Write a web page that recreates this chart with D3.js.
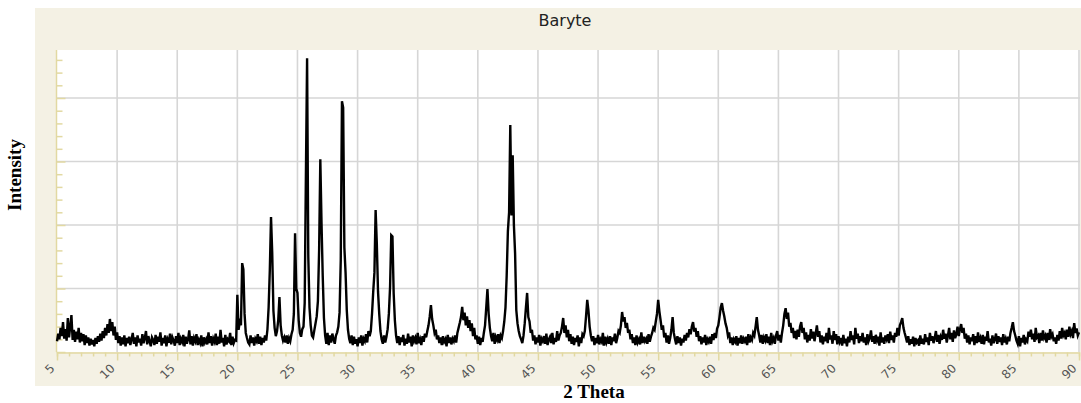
<!DOCTYPE html>
<html>
<head>
<meta charset="utf-8">
<script src="https://cdn.jsdelivr.net/npm/d3@7"></script>
<style>
  body { margin: 0; background: #fff; }
</style>
</head>
<body>
<div id="chart"></div>
<script>
// 2 Theta scan: first angle, step, and counts (one row per degree)
const thetaStart = 5;
const thetaStep = 0.1;
const counts = [
  170, 290, 200, 380, 250, 470, 210, 360, 180, 535,   // 5
  230, 400, 580, 190, 350, 160, 320, 200, 380, 150,   // 6
  300, 170, 280, 110, 260, 140, 230, 100, 210, 120,   // 7
  190, 90, 220, 130, 250, 160, 290, 180, 330, 220,    // 8
  380, 260, 440, 300, 520, 330, 470, 260, 400, 190,   // 9
  310, 140, 250, 100, 230, 120, 260, 90, 220, 140,    // 10
  240, 110, 200, 300, 130, 230, 90, 260, 150, 210,    // 11
  100, 280, 140, 220, 330, 120, 250, 170, 90, 230,    // 12
  190, 110, 270, 130, 240, 160, 310, 100, 220, 140,   // 13
  260, 90, 200, 150, 290, 120, 230, 180, 100, 250,    // 14
  140, 300, 110, 210, 160, 270, 90, 240, 130, 200,    // 15
  340, 120, 250, 100, 220, 170, 280, 110, 190, 140,   // 16
  260, 90, 230, 150, 200, 120, 310, 140, 250, 100,    // 17
  210, 160, 290, 110, 240, 130, 350, 150, 220, 90,    // 18
  270, 120, 200, 170, 300, 110, 240, 140, 190, 180,   // 19
  900, 350, 470, 420, 1400, 1300, 600, 300, 220, 150, // 20
  120, 260, 140, 230, 100, 210, 170, 280, 130, 240,   // 21
  110, 220, 150, 260, 180, 350, 700, 1290, 2125, 1560, // 22
  650, 380, 250, 330, 500, 865, 420, 260, 180, 230,   // 23
  150, 260, 130, 220, 170, 280, 350, 600, 1870, 1000, // 24
  930, 500, 300, 240, 360, 400, 770, 2760, 4625, 1500, // 25
  700, 420, 260, 230, 340, 450, 560, 800, 1600, 3035, // 26
  2030, 1200, 540, 260, 130, 300, 110, 260, 150, 290, // 27
  200, 130, 260, 310, 400, 620, 1450, 3950, 3850, 1650, // 28
  1250, 660, 350, 210, 140, 260, 110, 240, 130, 200,  // 29
  90, 230, 140, 260, 100, 210, 170, 280, 150, 330,    // 30
  250, 330, 600, 950, 1250, 2235, 1700, 950, 600, 330, // 31
  200, 130, 260, 150, 240, 360, 600, 1020, 1840, 1820, // 32
  930, 500, 260, 140, 250, 110, 230, 160, 270, 100,   // 33
  210, 130, 290, 150, 240, 90, 260, 170, 220, 120,    // 34
  300, 140, 200, 110, 250, 160, 290, 230, 330, 420,   // 35
  560, 740, 520, 420, 300, 350, 200, 260, 140, 230,   // 36
  110, 250, 160, 200, 90, 270, 140, 230, 120, 210,    // 37
  170, 260, 150, 300, 380, 460, 550, 710, 500, 620,   // 38
  420, 560, 380, 500, 330, 450, 250, 380, 200, 260,   // 39
  130, 240, 110, 220, 160, 300, 420, 700, 990, 600,   // 40
  380, 250, 170, 300, 130, 240, 190, 280, 140, 260,   // 41
  220, 330, 480, 700, 1200, 1900, 2200, 3575, 2150, 3100, // 42
  2000, 1550, 660, 450, 330, 250, 200, 140, 260, 450, // 43
  700, 930, 550, 480, 300, 350, 180, 260, 120, 230,   // 44
  150, 270, 100, 210, 170, 250, 130, 290, 110, 200,   // 45
  240, 140, 300, 120, 220, 160, 330, 180, 260, 300,   // 46
  400, 535, 300, 420, 230, 350, 170, 280, 130, 240,   // 47
  110, 220, 160, 260, 90, 230, 140, 280, 250, 330,    // 48
  560, 820, 650, 400, 260, 170, 250, 110, 220, 140,   // 49
  270, 120, 200, 160, 300, 100, 240, 150, 210, 130,   // 50
  250, 110, 230, 170, 290, 140, 220, 330, 300, 420,   // 51
  630, 480, 550, 380, 460, 300, 350, 200, 280, 140,   // 52
  230, 110, 260, 150, 200, 120, 310, 140, 240, 170,   // 53
  210, 130, 280, 160, 240, 300, 380, 350, 480, 600,   // 54
  820, 640, 500, 350, 420, 230, 300, 150, 260, 130,   // 55
  220, 350, 550, 300, 200, 120, 250, 140, 230, 100,   // 56
  210, 150, 270, 180, 300, 230, 360, 280, 400, 470,   // 57
  320, 380, 240, 330, 170, 250, 120, 230, 150, 270,   // 58
  110, 200, 160, 240, 130, 280, 190, 300, 220, 370,   // 59
  420, 550, 700, 770, 650, 560, 450, 380, 260, 310,   // 60
  140, 230, 110, 200, 160, 250, 100, 220, 140, 260,   // 61
  130, 210, 170, 240, 110, 280, 150, 230, 190, 300,   // 62
  260, 400, 550, 350, 260, 150, 270, 130, 230, 180,   // 63
  280, 140, 240, 110, 300, 170, 220, 130, 260, 330,   // 64
  180, 270, 150, 300, 420, 600, 690, 520, 620, 400,   // 65
  460, 300, 380, 220, 330, 200, 350, 240, 400, 470,   // 66
  300, 380, 200, 310, 150, 270, 180, 360, 210, 320,   // 67
  170, 290, 420, 240, 330, 150, 260, 120, 240, 170,   // 68
  300, 140, 380, 200, 260, 130, 330, 190, 280, 120,   // 69
  250, 160, 220, 100, 270, 140, 210, 90, 240, 150,    // 70
  330, 190, 260, 120, 380, 210, 290, 140, 250, 170,   // 71
  300, 150, 230, 110, 280, 170, 220, 340, 160, 250,   // 72
  130, 270, 180, 240, 100, 310, 150, 230, 130, 260,   // 73
  200, 280, 140, 320, 190, 260, 150, 300, 240, 380,   // 74
  260, 420, 470, 535, 380, 300, 230, 150, 250, 110,   // 75
  200, 130, 240, 90, 220, 150, 180, 100, 260, 130,    // 76
  210, 120, 280, 160, 230, 110, 300, 180, 250, 140,   // 77
  220, 330, 160, 270, 130, 240, 190, 350, 210, 290,   // 78
  150, 260, 380, 200, 300, 160, 340, 220, 280, 400,   // 79
  250, 360, 440, 300, 380, 210, 290, 150, 260, 120,   // 80
  230, 170, 280, 110, 250, 140, 310, 160, 220, 130,   // 81
  270, 120, 240, 180, 330, 150, 210, 100, 260, 140,   // 82
  200, 290, 130, 250, 160, 230, 110, 280, 150, 210,   // 83
  120, 240, 170, 300, 380, 470, 330, 260, 180, 130,   // 84
  250, 90, 220, 150, 270, 120, 200, 170, 320, 240,    // 85
  350, 200, 290, 160, 380, 230, 260, 140, 300, 180,   // 86
  340, 220, 260, 150, 300, 190, 360, 240, 280, 170,   // 87
  230, 130, 270, 180, 330, 210, 380, 260, 300, 200,   // 88
  350, 240, 400, 280, 330, 220, 455, 300, 370, 260,   // 89
  310                                                 // 90
];

const xTicks = d3.range(5, 91, 5);          // labelled 2 Theta ticks
const yGrid = [1000, 2000, 3000, 4000];     // horizontal grid lines
const title = "Baryte";

const W = 1081, H = 403;
const panel = { left: 35, top: 8, right: 1081, bottom: 386 };
const plot = { left: 57, top: 50, right: 1080, bottom: 352 };

const svg = d3.select("#chart")
  .append("svg")
  .attr("width", W)
  .attr("height", H);

// beige frame and white plotting area
svg.append("rect")
  .attr("x", panel.left).attr("y", panel.top)
  .attr("width", panel.right - panel.left).attr("height", panel.bottom - panel.top)
  .attr("fill", "#f4f1e4");

svg.append("rect")
  .attr("x", plot.left).attr("y", plot.top)
  .attr("width", plot.right - plot.left).attr("height", plot.bottom - plot.top)
  .attr("fill", "#fff");

let x = d3.scaleLinear().domain([5, 90]).range([plot.left, 1079]);
let y = d3.scaleLinear().domain([0, 4756]).range([plot.bottom, plot.top]);

// grid
svg.append("g")
  .selectAll("line")
  .data(xTicks.filter(t => t > 5))
  .enter()
  .append("line")
  .attr("x1", d => x(d)).attr("x2", d => x(d))
  .attr("y1", plot.top).attr("y2", plot.bottom)
  .attr("stroke", "#d6d6d6")
  .attr("stroke-width", 1.6);

svg.append("g")
  .selectAll("line")
  .data(yGrid)
  .enter()
  .append("line")
  .attr("x1", plot.left).attr("x2", plot.right)
  .attr("y1", d => y(d)).attr("y2", d => y(d))
  .attr("stroke", "#d6d6d6")
  .attr("stroke-width", 1.6);

const axisColor = "#e2d9a2";

// y axis: line with minor ticks only, no labels
let yAxis = svg.append("g")
  .attr("transform", "translate(" + (plot.left - 0.5) + ",0)")
  .call(d3.axisRight(y).tickValues(d3.range(0, 4757, 200)).tickSize(6).tickFormat(""));
yAxis.select(".domain").attr("stroke", axisColor).attr("stroke-width", 1.5).attr("d", "M0," + plot.top + "V" + plot.bottom);
yAxis.selectAll(".tick line").attr("stroke", axisColor).attr("stroke-width", 1.5)
  .attr("x2", d => d % 1000 === 0 ? 9 : 6);

// x axis with 1 degree minor ticks
let xAxis = svg.append("g")
  .attr("transform", "translate(0," + (plot.bottom + 0.5) + ")")
  .call(d3.axisBottom(x).tickValues(d3.range(5, 91, 1)).tickSize(4).tickFormat(""));
xAxis.select(".domain").attr("stroke", axisColor).attr("stroke-width", 1.5);
xAxis.selectAll(".tick line").attr("stroke", axisColor).attr("stroke-width", 1.5)
  .attr("y2", d => d % 5 === 0 ? 8 : 4);

svg.append("g")
  .selectAll("text")
  .data(xTicks)
  .enter()
  .append("text")
  .attr("transform", d => "translate(" + (x(d) - 1.5) + "," + (plot.bottom + 17) + ") rotate(-45)")
  .attr("text-anchor", "end")
  .attr("font-family", "DejaVu Sans, sans-serif")
  .attr("font-size", 12)
  .attr("fill", "#555")
  .text(d => d);

// the scan line
let line = d3.line()
  .x((d, i) => x(thetaStart + i * thetaStep))
  .y(d => y(d));

svg.append("path")
  .datum(counts)
  .attr("d", line)
  .attr("fill", "none")
  .attr("stroke", "#000")
  .attr("stroke-width", 2.4)
  .attr("stroke-linejoin", "miter");

// titles
svg.append("text")
  .attr("x", 565).attr("y", 26)
  .attr("text-anchor", "middle")
  .attr("font-family", "DejaVu Sans, sans-serif")
  .attr("font-size", 16)
  .attr("fill", "#222")
  .text(title);

svg.append("text")
  .attr("x", 594).attr("y", 398)
  .attr("text-anchor", "middle")
  .attr("font-family", "Liberation Serif, serif")
  .attr("font-weight", "bold")
  .attr("font-size", 19)
  .text("2 Theta");

svg.append("text")
  .attr("transform", "translate(21,175) rotate(-90)")
  .attr("text-anchor", "middle")
  .attr("font-family", "Liberation Serif, serif")
  .attr("font-weight", "bold")
  .attr("font-size", 19)
  .text("Intensity");
</script>
</body>
</html>
